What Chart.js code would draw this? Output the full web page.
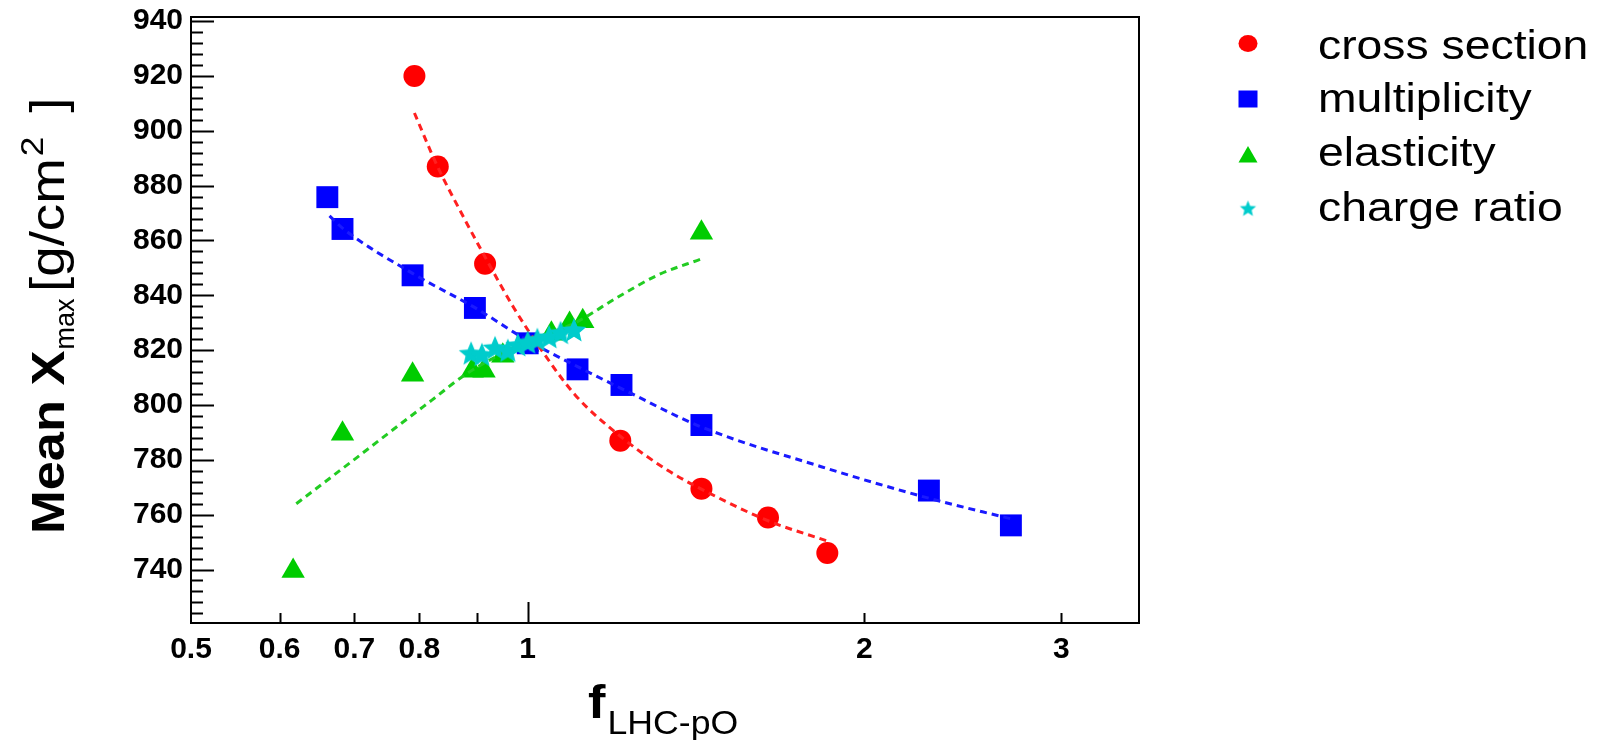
<!DOCTYPE html>
<html>
<head>
<meta charset="utf-8">
<script src="https://cdn.jsdelivr.net/npm/chart.js@4.4.1/dist/chart.umd.min.js"></script>
<style>
  html, body { margin: 0; padding: 0; background: #ffffff; }
  #wrap { width: 1609px; height: 740px; }
</style>
</head>
<body>
<div id="wrap"><canvas id="c" width="1609" height="740"></canvas></div>
<script>
// Mean Xmax versus the LHC-to-pO extrapolation factor, one series per modified quantity

// cross section: points and dashed fit
const crossF = [0.792, 0.831, 0.916, 1.21, 1.43, 1.64, 1.853];
const crossX = [920, 887, 851.5, 787, 769.5, 759, 746];
const crossFitF = [0.792, 0.829, 0.875, 0.916, 0.972, 1.035, 1.103, 1.21, 1.334, 1.482, 1.647, 1.853];
const crossFitX = [906.5, 887.7, 869, 854, 835.4, 818.5, 803.6, 788.6, 776.2, 766.1, 757.5, 750.4];

// multiplicity
const multF = [0.662, 0.683, 0.789, 0.897, 1.0, 1.108, 1.213, 1.43, 2.284, 2.704];
const multX = [875.8, 864.2, 847.3, 835.4, 822.5, 813, 807.3, 792.7, 768.8, 756.1];
const multFitF = [0.665, 0.683, 0.789, 0.897, 1.0, 1.108, 1.213, 1.43, 1.83, 2.284, 2.704];
const multFitX = [869, 864.5, 848, 835.5, 823.5, 814, 806, 792, 777.5, 766, 758.5];

// elasticity
const elasF = [0.617, 0.683, 0.789, 0.892, 0.914, 0.95, 1.0, 1.05, 1.09, 1.12, 1.43];
const elasX = [739.5, 789.5, 811, 812.5, 812.5, 818, 822, 826, 829.5, 830.5, 862.8];
const elasFitF = [0.621, 0.693, 0.754, 0.821, 0.879, 0.951, 1.014, 1.103, 1.2, 1.306, 1.43];
const elasFitX = [764, 778.8, 790.3, 801.8, 811, 819, 824.2, 830, 839, 847.3, 853.3];

// charge ratio
const chargeF = [0.89, 0.91, 0.935, 0.96, 0.98, 1.0, 1.02, 1.045, 1.07, 1.1];
const chargeX = [818.5, 818, 820.5, 819.5, 821.5, 822.5, 823.5, 824.5, 826, 827];

// axes
const xTickLabels = [0.5, 0.6, 0.7, 0.8, 1, 2, 3];
const xTickMarks = [0.6, 0.7, 0.8, 0.9, 1, 2, 3];
const xMajorMarks = [1];
const yTickLabels = [740, 760, 780, 800, 820, 840, 860, 880, 900, 920, 940];
const yMinorStep = 4;

const legendLabels = ['cross section', 'multiplicity', 'elasticity', 'charge ratio'];
const colors = { red: '#ff0000', blue: '#0000ff', green: '#00cc00', cyan: '#00cccc',
                 redLine: '#ff2020', blueLine: '#1a1aff', greenLine: '#22cc22' };

const pts = (fs, xs) => fs.map((f, i) => ({ x: f, y: xs[i] }));

function starCanvas(R, color) {
  const s = Math.ceil(2 * R + 2);
  const c = document.createElement('canvas');
  c.width = s; c.height = s;
  const g = c.getContext('2d');
  g.fillStyle = color;
  g.beginPath();
  for (let i = 0; i < 10; i++) {
    const r = i % 2 ? R * 0.45 : R;
    const a = -Math.PI / 2 + i * Math.PI / 5;
    g.lineTo(s / 2 + r * Math.cos(a), s / 2 + r * Math.sin(a));
  }
  g.closePath();
  g.fill();
  return c;
}
const starImg = starCanvas(13, colors.cyan);

const fitLine = (data, color) => ({
  data, showLine: true, pointRadius: 0, borderColor: color, borderWidth: 3,
  borderDash: [7, 5], cubicInterpolationMode: 'monotone', fill: false, order: 1
});

// inward tick marks and the full frame
const frameTicks = {
  id: 'frameTicks',
  afterDatasetsDraw(chart) {
    const { ctx, chartArea: a, scales: { x, y } } = chart;
    ctx.save();
    ctx.strokeStyle = '#000';
    ctx.lineWidth = 2;
    ctx.beginPath();
    for (let v = 724; v <= 940; v += yMinorStep) {
      const py = Math.round(y.getPixelForValue(v)) + 0.5;
      const len = v % 20 === 0 ? 23 : 12;
      ctx.moveTo(a.left, py); ctx.lineTo(a.left + len, py);
    }
    for (const v of xTickMarks) {
      const px = Math.round(x.getPixelForValue(v)) + 0.5;
      const len = xMajorMarks.includes(v) ? 21 : 10;
      ctx.moveTo(px, a.bottom); ctx.lineTo(px, a.bottom - len);
    }
    ctx.stroke();
    ctx.strokeRect(a.left, a.top, a.right - a.left, a.bottom - a.top);
    ctx.restore();
  }
};

function stretchedText(ctx, text, x, y, font, sx) {
  ctx.save();
  ctx.font = font;
  ctx.translate(x, y);
  ctx.scale(sx, 1);
  ctx.fillText(text, 0, 0);
  const w = ctx.measureText(text).width * sx;
  ctx.restore();
  return w;
}

// axis titles and legend
const annotations = {
  id: 'annotations',
  afterDraw(chart) {
    const ctx = chart.ctx;
    ctx.save();
    ctx.fillStyle = '#000';
    ctx.textBaseline = 'alphabetic';
    ctx.textAlign = 'left';

    // y title, written bottom to top
    ctx.save();
    ctx.translate(64, 534);
    ctx.rotate(-Math.PI / 2);
    const w1 = stretchedText(ctx, 'Mean X', 0, 0, 'bold 46px "Liberation Sans"', 1.14);
    stretchedText(ctx, 'max', w1 + 1, 10, '27px "Liberation Sans"', 1.0);
    const start = 242;
    const w2 = stretchedText(ctx, '[g/cm', start, 0, '48px "Liberation Sans"', 1.14);
    const w3 = stretchedText(ctx, '2', start + w2 + 2, -21, '32px "Liberation Sans"', 1.1);
    stretchedText(ctx, ']', start + w2 + w3 + 26, 0, '48px "Liberation Sans"', 1.14);
    ctx.restore();

    // x title
    const wf = stretchedText(ctx, 'f', 588, 718, 'bold 46px "Liberation Sans"', 1.14);
    stretchedText(ctx, 'LHC-pO', 588 + wf + 2, 734, '33px "Liberation Sans"', 1.08);

    // legend
    const lx = 1248, ly = [43.5, 99, 155, 209];
    const tb = [59, 112, 166, 221];
    ctx.fillStyle = colors.red;
    ctx.beginPath(); ctx.ellipse(lx, ly[0], 9.5, 8.5, 0, 0, Math.PI * 2); ctx.fill();
    ctx.fillStyle = colors.blue;
    ctx.fillRect(lx - 9.5, ly[1] - 8.5, 19, 17);
    ctx.fillStyle = colors.green;
    ctx.beginPath(); ctx.moveTo(lx, ly[2] - 9); ctx.lineTo(lx + 9.5, ly[2] + 7.5); ctx.lineTo(lx - 9.5, ly[2] + 7.5); ctx.closePath(); ctx.fill();
    const smallStar = starCanvas(8.5, colors.cyan);
    ctx.drawImage(smallStar, lx - smallStar.width / 2, ly[3] - smallStar.height / 2);
    ctx.fillStyle = '#000';
    legendLabels.forEach((t, i) => stretchedText(ctx, t, 1318, tb[i], '41px "Liberation Sans"', 1.13));
    ctx.restore();
  }
};

new Chart(document.getElementById('c'), {
  type: 'scatter',
  data: {
    datasets: [
      { label: legendLabels[3], data: pts(chargeF, chargeX), pointStyle: starImg, pointRadius: 13, order: 0 },
      Object.assign(fitLine(pts(crossFitF, crossFitX), colors.redLine), { label: 'cross section fit' }),
      Object.assign(fitLine(pts(multFitF, multFitX), colors.blueLine), { label: 'multiplicity fit' }),
      Object.assign(fitLine(pts(elasFitF, elasFitX), colors.greenLine), { label: 'elasticity fit' }),
      { label: legendLabels[0], data: pts(crossF, crossX), pointStyle: 'circle', pointRadius: 11,
        backgroundColor: colors.red, borderColor: colors.red, borderWidth: 0, order: 2 },
      { label: legendLabels[1], data: pts(multF, multX), pointStyle: 'rect', pointRadius: 15.5,
        backgroundColor: colors.blue, borderColor: colors.blue, borderWidth: 0, order: 3 },
      { label: legendLabels[2], data: pts(elasF, elasX), pointStyle: 'triangle', pointRadius: 13.5,
        backgroundColor: colors.green, borderColor: colors.green, borderWidth: 0, order: 4 }
    ]
  },
  options: {
    responsive: false,
    animation: false,
    events: [],
    layout: { padding: { top: 17, right: 470, left: 0, bottom: 0 } },
    plugins: { legend: { display: false }, tooltip: { enabled: false } },
    scales: {
      x: {
        type: 'logarithmic', min: 0.5, max: 3.52,
        afterBuildTicks: s => { s.ticks = xTickLabels.map(v => ({ value: v })); },
        afterFit: s => { s.height = 117; s.paddingLeft = 0; s.paddingRight = 0; },
        grid: { display: false, drawTicks: false },
        border: { display: false },
        ticks: {
          color: '#000', padding: 9, maxRotation: 0, autoSkip: false,
          font: { family: 'Liberation Sans', weight: 'bold', size: 30 },
          callback: v => String(v)
        }
      },
      y: {
        type: 'linear', min: 720.5, max: 941.5,
        afterBuildTicks: s => { s.ticks = yTickLabels.map(v => ({ value: v })); },
        afterFit: s => { s.width = 191; s.paddingTop = 0; s.paddingBottom = 0; },
        grid: { display: false, drawTicks: false },
        border: { display: false },
        ticks: {
          color: '#000', padding: 8,
          font: { family: 'Liberation Sans', weight: 'bold', size: 30 },
          callback: v => String(v)
        }
      }
    }
  },
  plugins: [frameTicks, annotations]
});
</script>
</body>
</html>
